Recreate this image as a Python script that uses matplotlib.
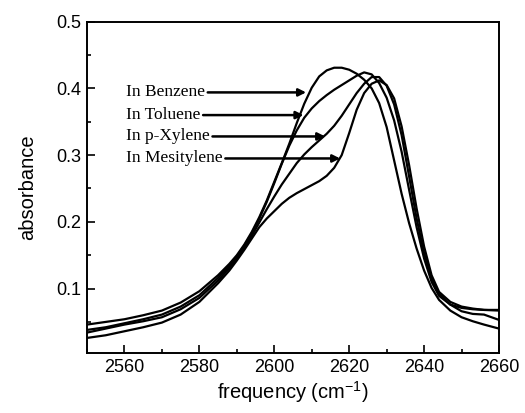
import matplotlib
matplotlib.use('Agg')
import matplotlib.pyplot as plt
from matplotlib.ticker import MultipleLocator

plt.rcParams['font.family'] = 'Liberation Sans'
plt.rcParams['mathtext.fontset'] = 'custom'
plt.rcParams['mathtext.rm'] = 'Liberation Sans'

# frequency grid (cm^-1)
freq = [2550, 2555, 2560, 2565, 2570, 2575, 2580, 2585, 2588, 2590, 2592, 2594,
        2596, 2598, 2600, 2602, 2604, 2606, 2608, 2610, 2612, 2614, 2616, 2618,
        2620, 2622, 2624, 2626, 2628, 2630, 2632, 2634, 2636, 2638, 2640, 2642,
        2644, 2647, 2650, 2653, 2656, 2660]

benzene = [0.046, 0.050, 0.054, 0.060, 0.067, 0.079, 0.096, 0.120, 0.137, 0.150, 0.166, 0.185,
           0.207, 0.232, 0.260, 0.288, 0.317, 0.348, 0.377, 0.401, 0.418, 0.427, 0.431, 0.431,
           0.428, 0.422, 0.413, 0.400, 0.378, 0.342, 0.292, 0.242, 0.198, 0.160, 0.127, 0.101,
           0.083, 0.067, 0.057, 0.051, 0.046, 0.040]

toluene = [0.038, 0.042, 0.048, 0.054, 0.061, 0.073, 0.090, 0.116, 0.134, 0.148, 0.164, 0.183,
           0.205, 0.230, 0.258, 0.287, 0.314, 0.337, 0.356, 0.370, 0.381, 0.390, 0.398, 0.405,
           0.412, 0.419, 0.424, 0.421, 0.408, 0.386, 0.352, 0.305, 0.248, 0.192, 0.145, 0.110,
           0.089, 0.076, 0.071, 0.069, 0.068, 0.068]

p_xylene = [0.034, 0.040, 0.046, 0.051, 0.057, 0.069, 0.086, 0.112, 0.131, 0.145, 0.161, 0.179,
            0.199, 0.219, 0.238, 0.256, 0.272, 0.288, 0.301, 0.312, 0.322, 0.332, 0.344, 0.359,
            0.376, 0.393, 0.407, 0.417, 0.417, 0.404, 0.376, 0.330, 0.268, 0.205, 0.153, 0.115,
            0.092, 0.076, 0.066, 0.062, 0.061, 0.053]

mesitylene = [0.026, 0.030, 0.036, 0.042, 0.049, 0.061, 0.080, 0.108, 0.127, 0.142, 0.158, 0.175,
              0.192, 0.205, 0.216, 0.227, 0.236, 0.243, 0.249, 0.255, 0.261, 0.269, 0.281, 0.300,
              0.333, 0.368, 0.393, 0.407, 0.412, 0.405, 0.385, 0.343, 0.285, 0.220, 0.163, 0.120,
              0.095, 0.080, 0.073, 0.070, 0.068, 0.067]

labels = ['In Benzene', 'In Toluene', 'In p-Xylene', 'In Mesitylene']
label_y = [0.394, 0.360, 0.328, 0.295]
arrow_tip_x = [2608.5, 2607.8, 2613.6, 2617.6]
label_x = 2560.4

fig = plt.figure(figsize=(5.25, 4.13), dpi=100)
ax = fig.add_axes([0.1657, 0.1446, 0.7848, 0.8029])

for series in (benzene, toluene, p_xylene, mesitylene):
    ax.plot(freq, series, color='black', lw=1.6, solid_joinstyle='round')

for text, ty, tx in zip(labels, label_y, arrow_tip_x):
    ax.annotate(text, xy=(tx, ty), xytext=(label_x, ty),
                ha='left', va='center', fontsize=12.5, family='Liberation Serif',
                arrowprops=dict(arrowstyle='-|>', color='black', lw=1.8,
                                mutation_scale=11, relpos=(1, 0.5),
                                shrinkA=0, shrinkB=0))

ax.set_xlim(2550, 2660)
ax.set_ylim(0.003, 0.5)
ax.xaxis.set_minor_locator(MultipleLocator(10))
ax.yaxis.set_minor_locator(MultipleLocator(0.05))
ax.set_xticks([2560, 2580, 2600, 2620, 2640, 2660])
ax.set_yticks([0.1, 0.2, 0.3, 0.4, 0.5])
ax.set_xticklabels(['2560', '2580', '2600', '2620', '2640', '2660'])
ax.set_yticklabels(['0.1', '0.2', '0.3', '0.4', '0.5'])
ax.tick_params(which='major', direction='in', length=6, width=1.2, labelsize=13, pad=4)
ax.tick_params(which='minor', direction='in', length=3, width=1.2)
ax.tick_params(top=False, right=False, which='both')
for sp in ax.spines.values():
    sp.set_linewidth(1.4)

ax.set_xlabel(r'frequency (cm$^{\mathregular{-1}}$)', fontsize=14.5, labelpad=2)
ax.set_ylabel('absorbance', fontsize=14.5, labelpad=14)

fig.savefig('out.png', dpi=100)
